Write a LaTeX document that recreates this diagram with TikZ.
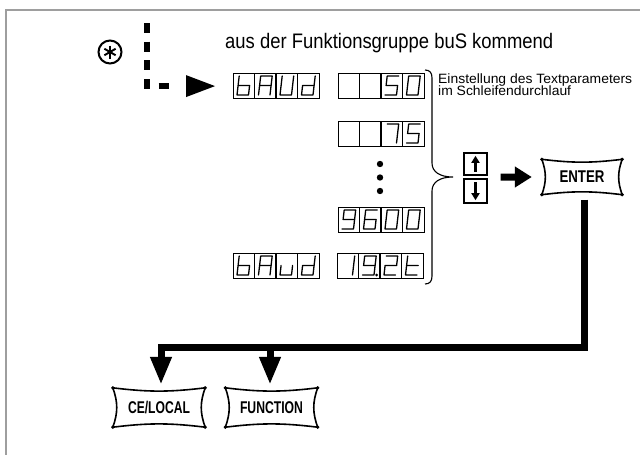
\documentclass[tikz,border=0pt]{standalone}
\usepackage{fontspec}
\setmainfont{Liberation Sans}
\usepackage{graphicx}
\usetikzlibrary{arrows.meta,calc}
\newcommand\titlefont{\fontsize{21}{21}\selectfont}
\newcommand\smallfont{\fontsize{13.5}{10}\selectfont}
\newcommand\keyfont{\fontsize{17}{17}\selectfont\bfseries}
\definecolor{framegray}{gray}{0.62}
\tikzset{
  frameline/.style={draw=framegray, line width=2pt},
  disp/.style={draw, line width=1.2pt, minimum width=86pt, minimum height=25pt, inner sep=0pt, anchor=north west},
  segline/.style={line width=1.3pt, line cap=round, line join=round},
  sa/.style={insert path={(6.2,3)--(17.7,3)}},
  sb/.style={insert path={(17.7,3)--(16.6,12.5)}},
  sc/.style={insert path={(16.6,12.5)--(15.5,22)}},
  sd/.style={insert path={(4,22)--(15.5,22)}},
  se/.style={insert path={(5.1,12.5)--(4,22)}},
  sf/.style={insert path={(6.2,3)--(5.1,12.5)}},
  sg/.style={insert path={(5.1,12.5)--(16.6,12.5)}},
  keybox/.style={draw, line width=1.4pt, minimum width=23pt, minimum height=22pt, inner sep=0pt},
  cushion/.style={inner sep=0pt, font=\keyfont},
  cushionline/.style={line width=1.6pt},
  bigline/.style={line width=7pt},
  bighead/.style={-{Triangle[length=28pt 0 1,width=20pt 0 1]}},
  bracel/.style={line width=1.1pt}
}
\newcommand\dispbox[3]{%
  \node[disp] (#1) at (#2,#3) {};
  \foreach \i in {1,2,3} {\draw[line width=1.2pt] (#2+\i*21.5,#3) -- (#2+\i*21.5,#3+25);}}
\newcommand\dg[3]{\begin{scope}[shift={(#1,#2)}]\draw[segline,#3];\end{scope}}
\newcommand\drawcushion[1]{%
  \draw[cushionline] (#1.north west) to[bend right=7] (#1.north east)
     to[bend right=20] (#1.south east) to[bend right=7] (#1.south west)
     to[bend right=20] (#1.north west);
  \foreach \c in {north west,north east,south east,south west} {\fill (#1.\c) circle (1.8pt);}}
\begin{document}
\begin{tikzpicture}[x=1pt,y=-1pt]
\useasboundingbox (0,0) rectangle (640,455);
\draw[frameline] (5.7,455) -- (5.7,9.5) -- (640,9.5);

% star marker
\node[draw, circle, line width=2pt, minimum size=23pt, inner sep=0pt] (star) at (110,52) {};
\foreach \a in {90,30,150} {\draw[line width=1.9pt] (star.center) ++(\a:6.5pt) -- ++(\a+180:13pt);}

% title
\node[anchor=base west, inner sep=0pt, font=\titlefont] (title) at (225,48)
  {\resizebox{328pt}{\height}{aus der Funktionsgruppe buS kommend}};

% displays
\dispbox{baudA}{233}{73}
\dispbox{fifty}{338}{73}
\dispbox{sevfive}{338}{121}
\dispbox{ninesix}{338}{207}
\dispbox{baudB}{233}{253}
\dispbox{nineteen}{337}{253}

% bAUd
\dg{233}{73}{sf,se,sd,sc,sg}
\dg{254.5}{73}{sa,sb,sc,se,sf,sg}
\dg{276}{73}{sb,sc,sd,se,sf}
\dg{297.5}{73}{sb,sc,sd,se,sg}
% 50
\dg{381}{73}{sa,sf,sg,sc,sd}
\dg{402.5}{73}{sa,sb,sc,sd,se,sf}
% 75
\dg{381}{121}{sa,sb,sc}
\dg{402.5}{121}{sa,sf,sg,sc,sd}
% 9600
\dg{338}{207}{sa,sb,sc,sd,sf,sg}
\dg{359.5}{207}{sa,sf,sg,se,sd,sc}
\dg{381}{207}{sa,sb,sc,sd,se,sf}
\dg{402.5}{207}{sa,sb,sc,sd,se,sf}
% bAud
\dg{233}{253}{sf,se,sd,sc,sg}
\dg{254.5}{253}{sa,sb,sc,se,sf,sg}
\dg{276}{253}{sc,sd,se}
\dg{297.5}{253}{sb,sc,sd,se,sg}
% 19.2t
\dg{337}{253}{sb,sc}
\dg{358.5}{253}{sa,sb,sc,sd,sf,sg}
\fill (376.5,275) circle (1.5pt);
\dg{380}{253}{sa,sb,sg,se,sd}
\dg{401.5}{253}{sf,se,sd,sg}

% ellipsis dots
\fill (380,164) circle (3.2pt);
\fill (380,177.5) circle (3.2pt);
\fill (380,191) circle (3.2pt);

% dashed arrow into bAUd
\coordinate (dstart) at (147,23);
\draw[line width=6pt, dash pattern=on 10pt off 8.7pt] (dstart) |- ([xshift=-59pt]baudA.west);
\fill ([xshift=-47pt,yshift=11pt]baudA.west) -- ([xshift=-18pt]baudA.west) -- ([xshift=-47pt,yshift=-11pt]baudA.west) -- cycle;

% brace
\draw[bracel] (425,70) .. controls (430,70) and (432,73) .. (432,78) -- (432,163)
  .. controls (432,172) and (440,177) .. (453,177)
  .. controls (440,177) and (432,182) .. (432,191) -- (432,276)
  .. controls (432,281) and (430,284) .. (425,284);

% brace label
\node[anchor=base west, inner sep=0pt, font=\smallfont] (einst) at (438,83)
  {\resizebox{194pt}{\height}{\begin{tabular}[t]{@{}l@{}}Einstellung des Textparameters\\ im Schleifendurchlauf\end{tabular}}};

% up / down keys
\node[keybox] (up) at (475.5,164) {};
\node[keybox, minimum height=24pt] (down) at (475.5,191) {};
\draw[line width=2.6pt, -{Triangle[length=7pt 0 1,width=8pt 0 1]}] ([yshift=4pt]up.south) -- ([yshift=-3.5pt]up.north);
\draw[line width=2.6pt, -{Triangle[length=7pt 0 1,width=8pt 0 1]}] ([yshift=-4pt]down.north) -- ([yshift=3.5pt]down.south);

% keys
\node[cushion, minimum width=80pt, minimum height=35pt] (enter) at (582,177) {\resizebox{45pt}{\height}{ENTER}};
\node[cushion, minimum width=92pt, minimum height=39pt] (celocal) at (159,407.5) {\resizebox{62pt}{\height}{CE/LOCAL}};
\node[cushion, minimum width=92pt, minimum height=39pt] (function) at (271.5,407.5) {\resizebox{63pt}{\height}{FUNCTION}};
\drawcushion{enter}
\drawcushion{celocal}
\drawcushion{function}

% arrow to ENTER
\draw[line width=7pt, -{Triangle[length=17pt 0 1,width=20pt 0 1]}]
  ($(up.south east)!0.5!(down.north east)+(13pt,0)$) -- ([xshift=-10pt]enter.west);

% output connectors
\coordinate (junc) at (270,347);
\draw[bigline, bighead] ([xshift=2pt,yshift=-5pt]enter.south) |- (junc) -| ([xshift=2pt,yshift=3pt]celocal.north);
\draw[bigline, bighead] (junc) -- ([xshift=-1.5pt,yshift=3pt]function.north);
\end{tikzpicture}
\end{document}
